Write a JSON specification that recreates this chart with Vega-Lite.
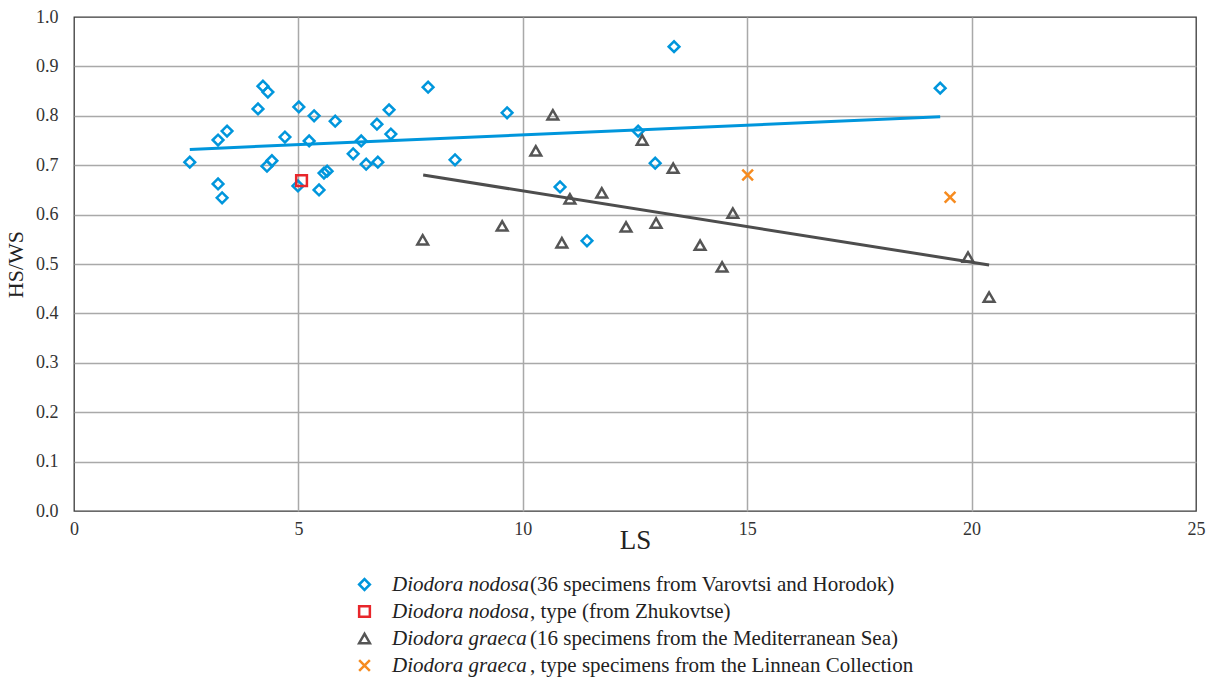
{
  "$schema": "https://vega.github.io/schema/vega-lite/v6.json",
  "width": 1122,
  "height": 494,
  "autosize": {"type": "none"},
  "padding": {"left": 74, "top": 17, "right": 15, "bottom": 167},
  "background": "white",
  "config": {
    "view": {"stroke": "#3a3a3a", "strokeWidth": 1.3},
    "font": "Liberation Serif",
    "axis": {"labelFont": "Liberation Serif", "titleFont": "Liberation Serif"},
    "legend": {"labelFont": "Liberation Serif", "titleFont": "Liberation Serif"}
  },
  "datasets": {
    "pts": [
      {"group": "nodosa", "LS": 2.58, "HSWS": 0.706},
      {"group": "nodosa", "LS": 3.21, "HSWS": 0.751},
      {"group": "nodosa", "LS": 3.41, "HSWS": 0.769},
      {"group": "nodosa", "LS": 3.21, "HSWS": 0.662},
      {"group": "nodosa", "LS": 3.30, "HSWS": 0.634},
      {"group": "nodosa", "LS": 4.10, "HSWS": 0.814},
      {"group": "nodosa", "LS": 4.21, "HSWS": 0.860},
      {"group": "nodosa", "LS": 4.32, "HSWS": 0.848},
      {"group": "nodosa", "LS": 4.30, "HSWS": 0.698},
      {"group": "nodosa", "LS": 4.41, "HSWS": 0.709},
      {"group": "nodosa", "LS": 4.70, "HSWS": 0.757},
      {"group": "nodosa", "LS": 5.01, "HSWS": 0.818},
      {"group": "nodosa", "LS": 4.99, "HSWS": 0.658},
      {"group": "nodosa", "LS": 5.24, "HSWS": 0.749},
      {"group": "nodosa", "LS": 5.35, "HSWS": 0.800},
      {"group": "nodosa", "LS": 5.46, "HSWS": 0.650},
      {"group": "nodosa", "LS": 5.57, "HSWS": 0.684},
      {"group": "nodosa", "LS": 5.64, "HSWS": 0.688},
      {"group": "nodosa", "LS": 5.82, "HSWS": 0.789},
      {"group": "nodosa", "LS": 6.22, "HSWS": 0.723},
      {"group": "nodosa", "LS": 6.40, "HSWS": 0.749},
      {"group": "nodosa", "LS": 6.51, "HSWS": 0.702},
      {"group": "nodosa", "LS": 6.75, "HSWS": 0.783},
      {"group": "nodosa", "LS": 6.77, "HSWS": 0.706},
      {"group": "nodosa", "LS": 7.02, "HSWS": 0.812},
      {"group": "nodosa", "LS": 7.06, "HSWS": 0.763},
      {"group": "nodosa", "LS": 7.89, "HSWS": 0.858},
      {"group": "nodosa", "LS": 8.49, "HSWS": 0.711},
      {"group": "nodosa", "LS": 9.65, "HSWS": 0.806},
      {"group": "nodosa", "LS": 10.83, "HSWS": 0.656},
      {"group": "nodosa", "LS": 11.43, "HSWS": 0.547},
      {"group": "nodosa", "LS": 12.57, "HSWS": 0.769},
      {"group": "nodosa", "LS": 12.95, "HSWS": 0.704},
      {"group": "nodosa", "LS": 13.37, "HSWS": 0.940},
      {"group": "nodosa", "LS": 19.30, "HSWS": 0.856},
      {"group": "nodosa type", "LS": 5.07, "HSWS": 0.669},
      {"group": "graeca", "LS": 7.77, "HSWS": 0.549},
      {"group": "graeca", "LS": 9.54, "HSWS": 0.577},
      {"group": "graeca", "LS": 10.29, "HSWS": 0.729},
      {"group": "graeca", "LS": 10.67, "HSWS": 0.802},
      {"group": "graeca", "LS": 10.87, "HSWS": 0.543},
      {"group": "graeca", "LS": 11.05, "HSWS": 0.632},
      {"group": "graeca", "LS": 11.76, "HSWS": 0.644},
      {"group": "graeca", "LS": 12.30, "HSWS": 0.575},
      {"group": "graeca", "LS": 12.66, "HSWS": 0.751},
      {"group": "graeca", "LS": 12.97, "HSWS": 0.583},
      {"group": "graeca", "LS": 13.35, "HSWS": 0.694},
      {"group": "graeca", "LS": 13.95, "HSWS": 0.538},
      {"group": "graeca", "LS": 14.44, "HSWS": 0.494},
      {"group": "graeca", "LS": 14.68, "HSWS": 0.603},
      {"group": "graeca", "LS": 19.92, "HSWS": 0.514},
      {"group": "graeca", "LS": 20.39, "HSWS": 0.433},
      {"group": "graeca type", "LS": 15.01, "HSWS": 0.680},
      {"group": "graeca type", "LS": 19.52, "HSWS": 0.635}
    ],
    "trend": [
      {"series": "nodosa", "LS": 2.58, "HSWS": 0.732},
      {"series": "nodosa", "LS": 19.30, "HSWS": 0.798},
      {"series": "graeca", "LS": 7.78, "HSWS": 0.680},
      {"series": "graeca", "LS": 20.39, "HSWS": 0.498}
    ],
    "leg2": [
      {"rest": "(36 specimens from Varovtsi and Horodok)"},
      {"rest": ", type (from Zhukovtse)"},
      {"rest": "(16 specimens from the Mediterranean Sea)"},
      {"rest": ", type specimens from the Linnean Collection"}
    ]
  },
  "layer": [
    {
      "data": {"name": "pts"},
      "mark": {"type": "point", "filled": false, "strokeWidth": 2.5, "opacity": 1, "size": 115},
      "encoding": {
        "x": {
          "field": "LS", "type": "quantitative",
          "scale": {"domain": [0, 25], "nice": false, "zero": true},
          "axis": {
            "values": [0, 5, 10, 15, 20, 25], "format": "d",
            "grid": true,
            "gridColor": {"condition": {"test": "datum.value == 0 || datum.value == 25", "value": "transparent"}, "value": "#a9a9a9"},
            "gridWidth": 1.5,
            "domain": false, "ticks": false,
            "labelFont": "Liberation Serif", "labelFontSize": 18, "labelColor": "#333333",
            "labelPadding": 9, "labelFlush": false,
            "title": "LS", "titleFont": "Liberation Serif", "titleFontSize": 27,
            "titleFontWeight": "normal", "titleColor": "#222222", "titlePadding": -11
          }
        },
        "y": {
          "field": "HSWS", "type": "quantitative",
          "scale": {"domain": [0, 1], "nice": false},
          "axis": {
            "values": [0, 0.1, 0.2, 0.3, 0.4, 0.5, 0.6, 0.7, 0.8, 0.9, 1.0], "format": ".1f",
            "grid": true,
            "gridColor": {"condition": {"test": "datum.value == 0 || datum.value == 1", "value": "transparent"}, "value": "#a9a9a9"},
            "gridWidth": 1.5,
            "domain": false, "ticks": false,
            "labelFont": "Liberation Serif", "labelFontSize": 18, "labelColor": "#333333",
            "labelPadding": 16,
            "title": "HS/WS", "titleFont": "Liberation Serif", "titleFontSize": 22,
            "titleFontWeight": "normal", "titleColor": "#222222", "titlePadding": 8
          }
        },
        "color": {
          "field": "group", "type": "nominal",
          "scale": {"domain": ["nodosa", "nodosa type", "graeca", "graeca type"], "range": ["#0096dc", "#e8262b", "#555555", "#f68b1f"]},
          "legend": {
            "orient": "none", "legendX": 280, "legendY": 557, "direction": "vertical",
            "title": null, "padding": 0, "rowPadding": 5,
            "labelExpr": "indexof(datum.label, 'nodosa') >= 0 ? 'Diodora nodosa' : 'Diodora graeca'",
            "labelFont": "Liberation Serif", "labelFontSize": 21, "labelFontStyle": "italic",
            "labelColor": "#222222", "labelOffset": 17, "labelLimit": 1000,
            "symbolStrokeWidth": 2.5, "symbolSize": 115
          }
        },
        "shape": {
          "field": "group", "type": "nominal",
          "scale": {"domain": ["nodosa", "nodosa type", "graeca", "graeca type"], "range": ["diamond", "square", "triangle-up", "M-1,-1L1,1M-1,1L1,-1"]},
          "legend": {
            "orient": "none", "legendX": 280, "legendY": 557, "direction": "vertical",
            "title": null, "padding": 0, "rowPadding": 5,
            "labelExpr": "indexof(datum.label, 'nodosa') >= 0 ? 'Diodora nodosa' : 'Diodora graeca'",
            "labelFont": "Liberation Serif", "labelFontSize": 21, "labelFontStyle": "italic",
            "labelColor": "#222222", "labelOffset": 17, "labelLimit": 1000,
            "symbolStrokeWidth": 2.5, "symbolSize": 115
          }
        }
      }
    },
    {
      "data": {"name": "trend"},
      "transform": [{"filter": "datum.series == 'nodosa'"}],
      "mark": {"type": "line", "color": "#0096dc", "strokeWidth": 3},
      "encoding": {
        "x": {"field": "LS", "type": "quantitative"},
        "y": {"field": "HSWS", "type": "quantitative"}
      }
    },
    {
      "data": {"name": "trend"},
      "transform": [{"filter": "datum.series == 'graeca'"}],
      "mark": {"type": "line", "color": "#4d4d4d", "strokeWidth": 3},
      "encoding": {
        "x": {"field": "LS", "type": "quantitative"},
        "y": {"field": "HSWS", "type": "quantitative"}
      }
    },
    {
      "data": {"name": "leg2"},
      "mark": {"type": "point", "opacity": 0},
      "encoding": {
        "strokeDash": {
          "field": "rest", "type": "nominal",
          "scale": {"domain": [
            "(36 specimens from Varovtsi and Horodok)",
            ", type (from Zhukovtse)",
            "(16 specimens from the Mediterranean Sea)",
            ", type specimens from the Linnean Collection"
          ]},
          "legend": {
            "orient": "none", "legendX": 435, "legendY": 557, "direction": "vertical",
            "title": null, "padding": 0, "rowPadding": 5,
            "labelFont": "Liberation Serif", "labelFontSize": 21, "labelFontStyle": "normal",
            "labelColor": "#222222", "labelOffset": 0, "labelLimit": 1000,
            "symbolSize": 0, "symbolOpacity": 0, "symbolStrokeWidth": 0,
            "labelExpr": "indexof(datum.value, '(') == 0 ? '\u00a0' + datum.value : datum.value"
          }
        }
      }
    }
  ]
}
